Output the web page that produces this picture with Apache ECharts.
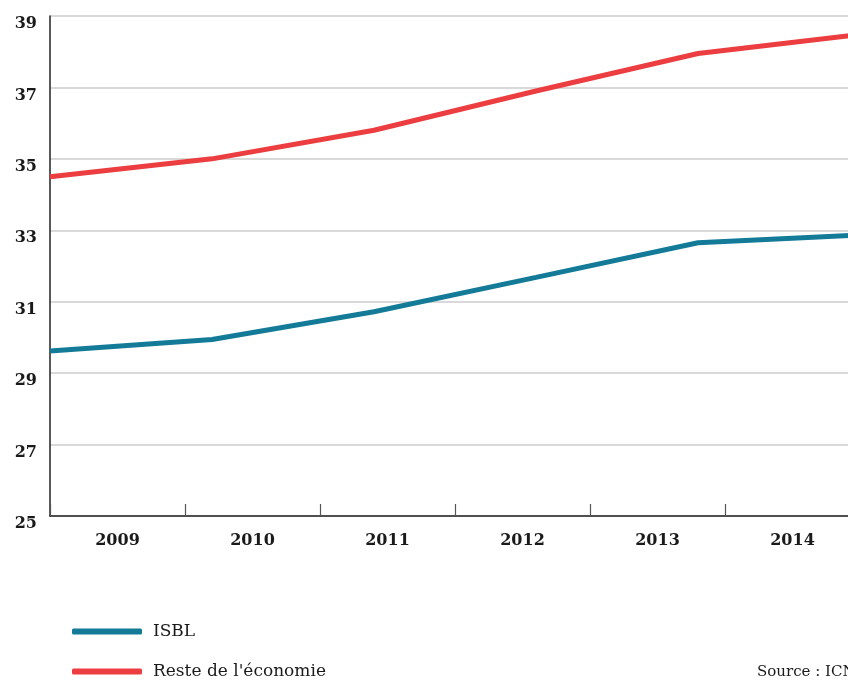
<!DOCTYPE html>
<html>
<head>
<meta charset="utf-8">
<script src="https://cdn.jsdelivr.net/npm/echarts@6/dist/echarts.min.js"></script>
<style>
html,body{margin:0;padding:0;background:#fff;overflow:hidden;width:848px;height:680px;}
#chart{width:860px;height:680px;}
</style>
</head>
<body>
<div id="chart"></div>
<script>
const years = ['2009', '2010', '2011', '2012', '2013', '2014'];
const isbl = [29.62, 29.94, 30.72, 31.68, 32.65, 32.87];
const resteEconomie = [34.5, 35.0, 35.8, 36.9, 37.95, 38.48];
const yTicks = { min: 25, max: 39, interval: 2 };
const seriesNames = ['ISBL', "Reste de l'économie"];
const sourceText = 'Source : ICN';

const FONT = '"DejaVu Serif", serif';
const legendBase = {
  orient: 'vertical',
  left: 67,
  itemWidth: 70,
  itemHeight: 6,
  icon: 'roundRect',
  textStyle: { fontFamily: FONT, fontSize: 17, color: '#1a1a1a', padding: [0, 0, 0, 6] }
};
const chart = echarts.init(document.getElementById('chart'), null, { renderer: 'canvas' });
chart.setOption({
  animation: false,
  backgroundColor: '#ffffff',
  grid: { left: 50, top: 16, right: 0, bottom: 164, containLabel: false },
  xAxis: [
    {
      type: 'category',
      data: years,
      boundaryGap: true,
      axisLine: { show: true, lineStyle: { color: '#222', width: 1.5 } },
      axisTick: { show: true, inside: true, length: 12, lineStyle: { color: '#555', width: 1.2 } },
      axisLabel: { color: '#1a1a1a', fontFamily: FONT, fontSize: 16, fontWeight: 'bold', margin: 17 },
      splitLine: { show: false }
    },
    {
      type: 'category',
      data: years,
      boundaryGap: false,
      show: false
    }
  ],
  yAxis: {
    type: 'value',
    min: yTicks.min,
    max: yTicks.max,
    interval: yTicks.interval,
    axisLine: { show: true, lineStyle: { color: '#222', width: 1.5 } },
    axisTick: { show: false },
    axisLabel: {
      color: '#1a1a1a', fontFamily: FONT, fontSize: 16, fontWeight: 'bold',
      margin: 13, verticalAlign: 'top', lineHeight: 16
    },
    splitLine: { show: true, lineStyle: { color: '#cccccc', width: 1.5 } }
  },
  legend: [
    Object.assign({}, legendBase, { top: 618, data: [seriesNames[0]] }),
    Object.assign({}, legendBase, { top: 658, data: [seriesNames[1]] })
  ],
  graphic: [
    {
      type: 'text',
      left: 757,
      top: 665,
      style: { text: sourceText, font: '15px "DejaVu Serif", serif', fill: '#1a1a1a' }
    }
  ],
  series: [
    {
      name: seriesNames[0],
      type: 'line',
      xAxisIndex: 1,
      data: isbl,
      symbol: 'none',
      lineStyle: { color: '#137b98', width: 5 },
      itemStyle: { color: '#137b98' }
    },
    {
      name: seriesNames[1],
      type: 'line',
      xAxisIndex: 1,
      data: resteEconomie,
      symbol: 'none',
      lineStyle: { color: '#ec3d40', width: 5 },
      itemStyle: { color: '#ec3d40' }
    }
  ]
});
</script>
</body>
</html>
